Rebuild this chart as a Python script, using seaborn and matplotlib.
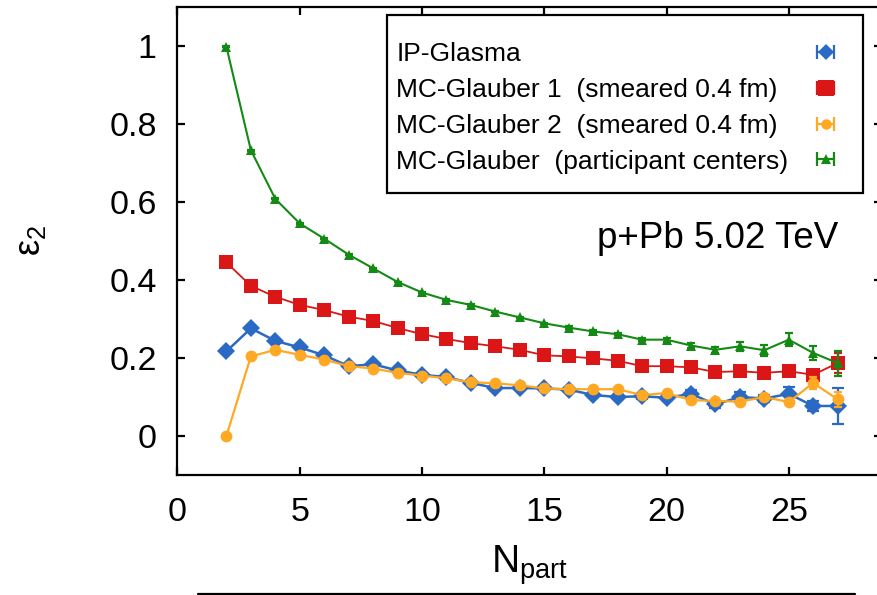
import numpy as np
import pandas as pd
import matplotlib
matplotlib.use("Agg")
import matplotlib.pyplot as plt
import seaborn as sns
from matplotlib.lines import Line2D
from matplotlib.patches import Rectangle
from matplotlib.legend_handler import HandlerLine2D, HandlerTuple

# ---------------- data ----------------
npart = list(range(2, 28))

ip_glasma = [0.217, 0.276, 0.244, 0.227, 0.207, 0.179, 0.184, 0.168, 0.157, 0.151,
             0.136, 0.123, 0.123, 0.122, 0.119, 0.105, 0.100, 0.102, 0.098, 0.108,
             0.081, 0.100, 0.096, 0.108, 0.077, 0.077]
ip_glasma_err = [0.004, 0.004, 0.004, 0.004, 0.004, 0.004, 0.004, 0.004, 0.004, 0.004,
                 0.004, 0.004, 0.004, 0.004, 0.005, 0.005, 0.005, 0.006, 0.006, 0.010,
                 0.008, 0.012, 0.010, 0.018, 0.012, 0.045]

glauber1 = [0.445, 0.385, 0.357, 0.336, 0.323, 0.306, 0.295, 0.277, 0.261, 0.249,
            0.238, 0.230, 0.221, 0.207, 0.204, 0.199, 0.193, 0.179, 0.179, 0.176,
            0.164, 0.166, 0.162, 0.166, 0.157, 0.187]
glauber1_err = [0.003, 0.003, 0.003, 0.003, 0.003, 0.003, 0.003, 0.003, 0.003, 0.003,
                0.003, 0.003, 0.003, 0.003, 0.004, 0.004, 0.004, 0.004, 0.005, 0.005,
                0.005, 0.006, 0.006, 0.008, 0.010, 0.025]

glauber2 = [0.000, 0.204, 0.221, 0.208, 0.196, 0.179, 0.173, 0.162, 0.155, 0.148,
            0.138, 0.135, 0.130, 0.122, 0.120, 0.120, 0.120, 0.105, 0.110, 0.092,
            0.090, 0.088, 0.100, 0.087, 0.136, 0.094]
glauber2_err = [0.002, 0.003, 0.003, 0.003, 0.003, 0.003, 0.003, 0.003, 0.003, 0.003,
                0.003, 0.003, 0.003, 0.003, 0.004, 0.004, 0.004, 0.004, 0.005, 0.005,
                0.005, 0.006, 0.006, 0.008, 0.015, 0.020]

glauber_pc = [0.998, 0.733, 0.608, 0.545, 0.506, 0.465, 0.430, 0.395, 0.368, 0.349,
              0.336, 0.319, 0.304, 0.289, 0.278, 0.268, 0.261, 0.247, 0.247, 0.232,
              0.221, 0.230, 0.220, 0.247, 0.213, 0.187]
glauber_pc_err = [0.001, 0.001, 0.001, 0.001, 0.001, 0.001, 0.001, 0.001, 0.002, 0.002,
                  0.002, 0.002, 0.002, 0.002, 0.003, 0.003, 0.003, 0.004, 0.005, 0.006,
                  0.007, 0.012, 0.014, 0.016, 0.018, 0.032]

labels = ["IP-Glasma",
          "MC-Glauber 1  (smeared 0.4 fm)",
          "MC-Glauber 2  (smeared 0.4 fm)",
          "MC-Glauber  (participant centers)"]
values = [ip_glasma, glauber1, glauber2, glauber_pc]
errors = [ip_glasma_err, glauber1_err, glauber2_err, glauber_pc_err]

x_ticks = [0, 5, 10, 15, 20, 25]
y_ticks = [0, 0.2, 0.4, 0.6, 0.8, 1]

# ---------------- style ----------------
colors = ["#2a6ac4", "#da1616", "#ffa823", "#148a14"]
markers = ["D", "s", "o", "^"]
msizes = [9.5, 10.5, 8.5, 7.5]
leg_msizes = [8.0, 11.0, 7.5, 6.5]
lwidths = [1.8, 1.3, 1.6, 1.5]
capsizes = [8, 6, 6, 6]
draw_order = [1, 2, 0, 3]

sns.set_theme(style="ticks")
plt.rcParams["font.family"] = ["Liberation Sans", "DejaVu Sans"]
plt.rcParams["text.color"] = "black"
plt.rcParams["mathtext.fontset"] = "custom"
plt.rcParams["mathtext.rm"] = "Liberation Sans"
plt.rcParams["mathtext.it"] = "Liberation Sans"
plt.rcParams["mathtext.default"] = "regular"

fig = plt.figure(figsize=(8.78, 5.95), dpi=100)
W, H = 878.0, 595.0
ax_l, ax_r, ax_t, ax_b = 177.5, 881.7, 7.0, 475.0
ax = fig.add_axes([ax_l / W, 1 - ax_b / H, (ax_r - ax_l) / W, (ax_b - ax_t) / H])

df = pd.DataFrame({
    "Npart": np.tile(npart, len(labels)),
    "eps2": np.concatenate(values),
    "err": np.concatenate(errors),
    "model": np.repeat(labels, len(npart)),
})

for i in draw_order:
    sub = df[df["model"] == labels[i]]
    ax.errorbar(sub["Npart"], sub["eps2"], yerr=sub["err"], fmt="none",
                ecolor=colors[i], elinewidth=1.6, capsize=capsizes[i] / 2,
                capthick=1.6, zorder=2 + i)
    sns.lineplot(data=sub, x="Npart", y="eps2", ax=ax, color=colors[i],
                 marker=markers[i], markersize=msizes[i], markeredgewidth=0,
                 linewidth=lwidths[i], zorder=2 + i, legend=False, errorbar=None)

ax.set_xlim(0, 28.8)
ax.set_ylim(-0.1, 1.1)
ax.set_xticks(x_ticks)
ax.set_yticks(y_ticks)
ax.set_xticklabels([f"{v:g}" for v in x_ticks])
ax.set_yticklabels([f"{v:g}" for v in y_ticks])
ax.set_xlabel("")
ax.set_ylabel("")
for s in ax.spines.values():
    s.set_visible(True)
    s.set_linewidth(1.6)
    s.set_color("black")
ax.tick_params(axis="both", direction="in", length=6, width=1.6, labelsize=24.5,
               top=True, right=True, colors="black")
ax.tick_params(axis="x", pad=16)
ax.tick_params(axis="y", pad=15)

# ---------------- legend (gnuplot style: text left, sample right) ----------------
leg_top = (ax_b - 42.0) / (ax_b - ax_t)
leg_fs = 19
leg_sp = 0.45

# text column
blank = [Line2D([], [], lw=0) for _ in labels]
leg_text = ax.legend(blank, labels, loc="upper left",
                     bbox_to_anchor=((396.5 - ax_l) / (ax_r - ax_l), leg_top),
                     frameon=False, fontsize=leg_fs, handlelength=0, handletextpad=0,
                     labelspacing=leg_sp, borderpad=0, borderaxespad=0,
                     labelcolor="black")
ax.add_artist(leg_text)

# sample column
handles = []
hmap = {}
for i in range(4):
    cap = Line2D([], [], color=colors[i], lw=1.6, marker="|", markersize=10,
                 markeredgewidth=1.6)
    mk = Line2D([], [], color=colors[i], lw=0, marker=markers[i],
                markersize=leg_msizes[i], markeredgewidth=0)
    hmap[cap] = HandlerLine2D(numpoints=2)
    hmap[mk] = HandlerLine2D(numpoints=1)
    handles.append((cap, mk))
hmap[tuple] = HandlerTuple(ndivide=1, pad=0)

leg_mk = ax.legend(handles, [" "] * 4, handler_map=hmap, loc="upper right",
                   bbox_to_anchor=((842.0 - ax_l) / (ax_r - ax_l), leg_top),
                   frameon=False, markerfirst=False, fontsize=leg_fs, handlelength=1.25,
                   handletextpad=0, labelspacing=leg_sp, borderpad=0, borderaxespad=0)

# legend box
fig.add_artist(Rectangle((386.7 / W, 1 - 193.3 / H), (862.7 - 386.7) / W, (193.3 - 14.7) / H,
                         transform=fig.transFigure, fill=False, edgecolor="black",
                         linewidth=1.6, zorder=10))

fig.text(838.0 / W, 1 - 248.0 / H, "p+Pb 5.02 TeV", fontsize=26.5,
         ha="right", va="baseline")

fig.text(30.0 / W, 1 - 240.0 / H, "ε$_2$", rotation=90, ha="center", va="center",
         fontsize=26)
fig.text((ax_l + ax_r) / 2 / W, 1 - 573.0 / H, "N$_{part}$", ha="center",
         va="baseline", fontsize=28)

fig.add_artist(Line2D([198 / W, 855 / W], [1 - 594 / H, 1 - 594 / H],
                      transform=fig.transFigure, color="black", lw=1.6))

fig.savefig("out.png", dpi=100)
